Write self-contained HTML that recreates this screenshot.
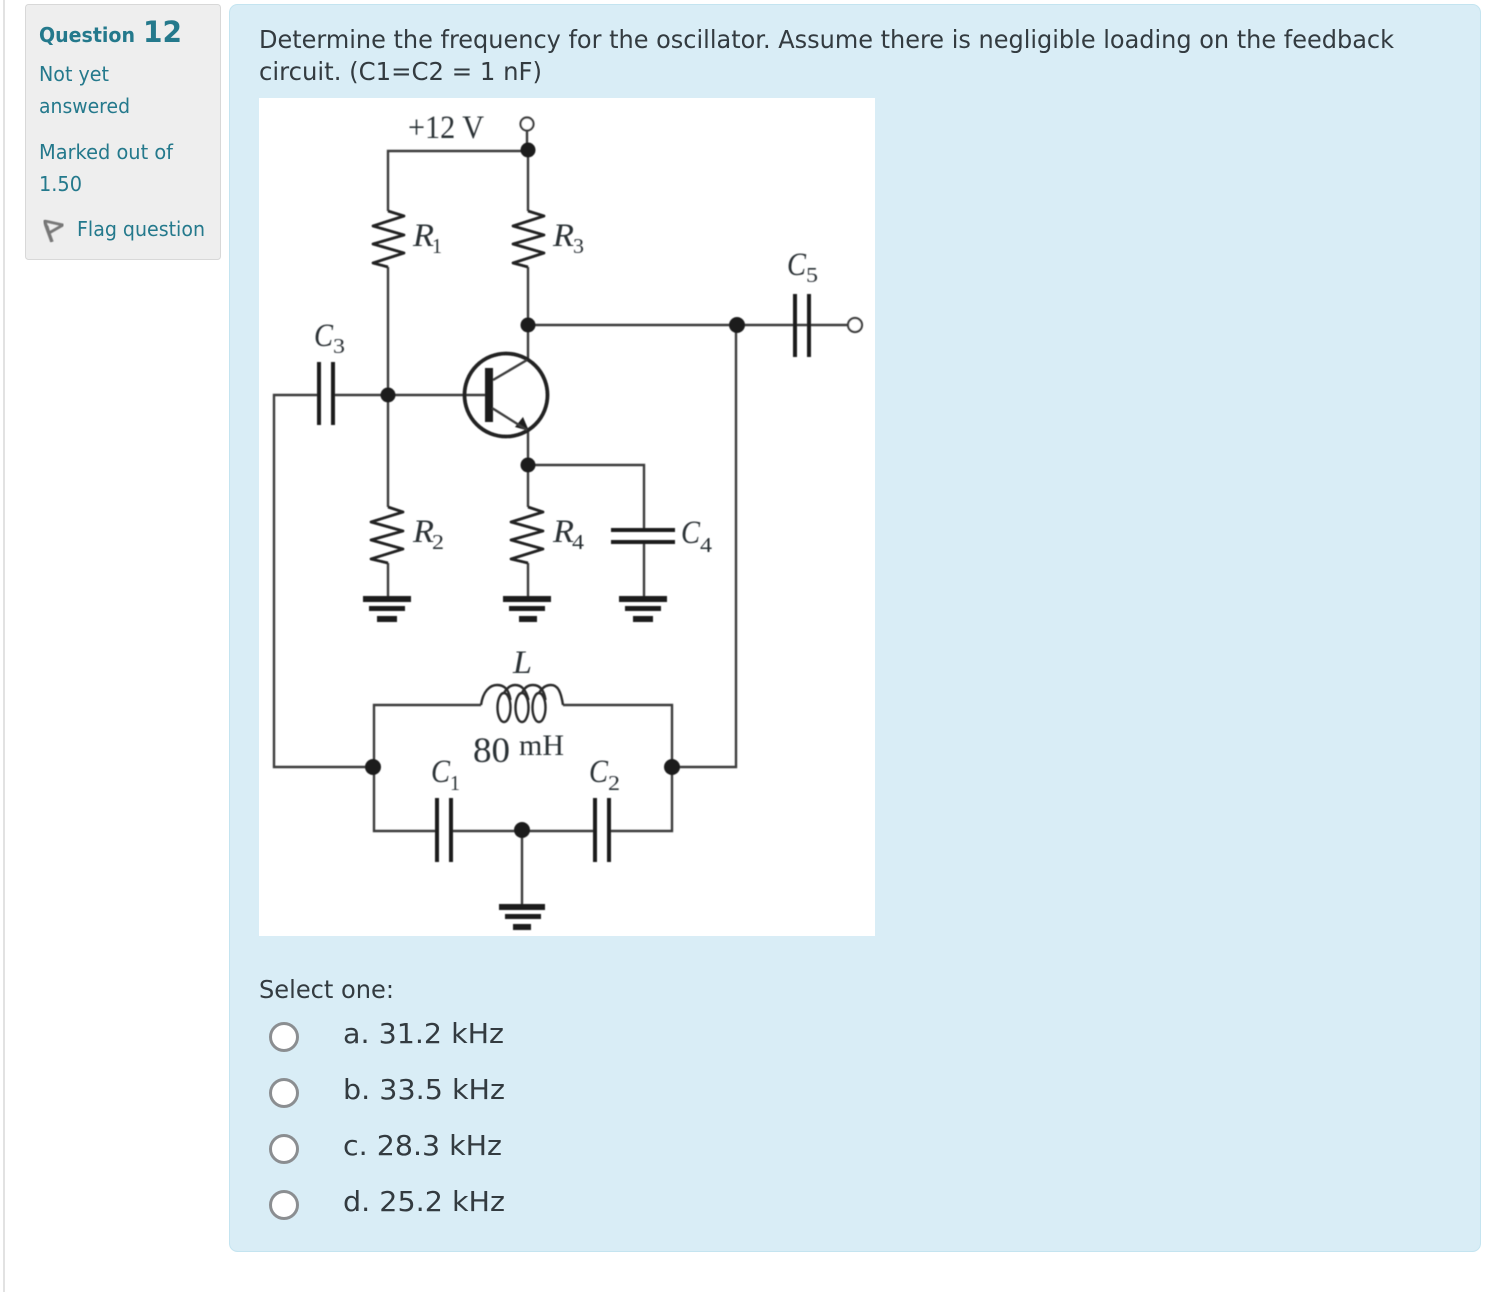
<!DOCTYPE html>
<html><head><meta charset="utf-8"><style>
html,body{margin:0;padding:0;background:#fff;width:1490px;height:1292px;overflow:hidden}
svg{display:block}
.s{font-family:"DejaVu Sans","Liberation Sans",sans-serif}
.q{fill:#24798c}
.m{fill:#333b40}
.c{font-family:"Liberation Serif",serif;fill:#2c3036}
.i{font-style:italic;font-size:33px}
.u{font-size:21px}
.w{fill:none;stroke:#3c3c3c;stroke-width:2.4}
.r{fill:none;stroke:#222;stroke-width:2.8;stroke-linejoin:round}
.p{fill:#1f1f1f;stroke:none}
.o{fill:#fff;stroke:#8b8e91;stroke-width:3}
</style></head><body>
<svg width="1490" height="1292" viewBox="0 0 1490 1292" xmlns="http://www.w3.org/2000/svg">
<defs><filter id="b" x="-2%" y="-2%" width="104%" height="104%"><feGaussianBlur stdDeviation="0.5"/></filter></defs>
<rect x="3" y="0" width="2" height="1292" fill="#e2e2e2"/>
<rect x="25.5" y="4.5" width="195" height="255" rx="3" fill="#eee" stroke="#d8d8d8"/>
<rect x="229.5" y="4.5" width="1251" height="1247" rx="8" fill="#d9edf6" stroke="#c4e4f0"/>
<rect x="259" y="98" width="616" height="838" fill="#fff"/>

<g class="s q">
<text x="39" y="42" font-size="20" font-weight="bold" textLength="96" lengthAdjust="spacingAndGlyphs">Question</text>
<text x="143" y="42" font-size="29" font-weight="bold" textLength="39" lengthAdjust="spacingAndGlyphs">12</text>
<text x="39" y="81" font-size="20" textLength="70" lengthAdjust="spacingAndGlyphs">Not yet</text>
<text x="39" y="113" font-size="20" textLength="91" lengthAdjust="spacingAndGlyphs">answered</text>
<text x="39" y="159" font-size="20" textLength="134" lengthAdjust="spacingAndGlyphs">Marked out of</text>
<text x="39" y="191" font-size="20" textLength="43" lengthAdjust="spacingAndGlyphs">1.50</text>
<text x="77" y="236" font-size="20" textLength="128" lengthAdjust="spacingAndGlyphs">Flag question</text>
</g>
<g fill="none" stroke="#777" stroke-width="3.4" filter="url(#b)"><path d="M44 220L52 242"/><path d="M45 221L63 225L49 233L47 226" stroke-width="2.8"/></g>

<g class="s m">
<text x="259" y="48" font-size="24.5" textLength="1135" lengthAdjust="spacingAndGlyphs">Determine the frequency for the oscillator. Assume there is negligible loading on the feedback</text>
<text x="259" y="80" font-size="24.5" textLength="283" lengthAdjust="spacingAndGlyphs">circuit. (C1=C2 = 1 nF)</text>
<text x="259" y="998" font-size="24.5" textLength="135" lengthAdjust="spacingAndGlyphs">Select one:</text>
<text x="343" y="1043" font-size="28" textLength="161" lengthAdjust="spacingAndGlyphs">a. 31.2 kHz</text>
<text x="343" y="1099" font-size="28" textLength="162" lengthAdjust="spacingAndGlyphs">b. 33.5 kHz</text>
<text x="343" y="1155" font-size="28" textLength="159" lengthAdjust="spacingAndGlyphs">c. 28.3 kHz</text>
<text x="343" y="1211" font-size="28" textLength="162" lengthAdjust="spacingAndGlyphs">d. 25.2 kHz</text>
</g>
<circle class="o" cx="284" cy="1037" r="13.5"/>
<circle class="o" cx="284" cy="1093" r="13.5"/>
<circle class="o" cx="284" cy="1149" r="13.5"/>
<circle class="o" cx="284" cy="1205" r="13.5"/>

<g filter="url(#b)">
<!-- wires -->
<path class="w" d="M527 130V151H388V211M388 267V507M388 563V599"/>
<path class="w" d="M528 151V211M528 267V360M528 430V507M528 563V599"/>
<path class="w" d="M528 325H848M736 325V767H672"/>
<path class="w" d="M528 465H644V530M644 542V599"/>
<path class="w" d="M388 395H488M319 395H274V767H373M333 395H388"/>
<path class="w" d="M481 705H374V831H437M451 831H595M609 831H672V705H563"/>
<path class="w" d="M522 831V907"/>
<!-- resistors -->
<path class="r" d="M388 211L404 216L373 226L404 235L373 244L404 253L373 263L388 267"/>
<path class="r" d="M528 211L544 216L513 226L544 235L513 244L544 253L513 263L528 267"/>
<path class="r" d="M388 507L403 512L371 522L403 531L371 540L403 549L371 559L388 563"/>
<path class="r" d="M528 507L543 512L511 522L543 531L511 540L543 549L511 559L528 563"/>
<!-- inductor -->
<g fill="none" stroke="#2a2a2a" stroke-width="2.4">
<ellipse cx="504" cy="707.5" rx="6.5" ry="14.5"/>
<ellipse cx="522" cy="707.5" rx="6.5" ry="14.5"/>
<ellipse cx="539" cy="707.5" rx="6.5" ry="14.5"/>
<path d="M481 705C483 691 490 685 497 685C505 685 509 690 510.5 700"/>
<path d="M504 693C508 686 512 685 515 685C522 685 526 690 528.5 700"/>
<path d="M522 693C525 686 530 685 533 685C540 685 544 690 545.5 700"/>
<path d="M539 693C543 686 548 685 551 685C558 685 561 692 563 705"/>
</g>
<!-- capacitors -->
<g class="p">
<rect x="317" y="362" width="4" height="63"/><rect x="331" y="362" width="4" height="63"/>
<rect x="793" y="294" width="4" height="63"/><rect x="807" y="294" width="4" height="63"/>
<rect x="435" y="798" width="4" height="64"/><rect x="449" y="798" width="4" height="64"/>
<rect x="593" y="798" width="4" height="64"/><rect x="607" y="798" width="4" height="64"/>
<rect x="611" y="528" width="64" height="4"/><rect x="611" y="540" width="64" height="4"/>
<!-- grounds -->
<rect x="363" y="596" width="48" height="6"/><rect x="369" y="606" width="36" height="5"/><rect x="377" y="616" width="20" height="6"/>
<rect x="503" y="596" width="48" height="6"/><rect x="509" y="606" width="36" height="5"/><rect x="519" y="616" width="18" height="6"/>
<rect x="619" y="596" width="48" height="6"/><rect x="625" y="606" width="36" height="5"/><rect x="633" y="616" width="20" height="6"/>
<rect x="499" y="904" width="46" height="6"/><rect x="505" y="914" width="36" height="5"/><rect x="513" y="924" width="18" height="6"/>
<!-- transistor -->
<rect x="485" y="368" width="8" height="54"/>
<path d="M529 431L515 427L523 417Z"/>
<!-- dots -->
<circle cx="528" cy="150" r="7.5"/><circle cx="528" cy="325" r="7.5"/><circle cx="737" cy="325" r="8"/>
<circle cx="388" cy="395" r="7.5"/><circle cx="528" cy="465" r="7.5"/>
<circle cx="373" cy="767" r="8"/><circle cx="672" cy="767" r="8"/><circle cx="522" cy="830" r="8"/>
</g>
<circle cx="506" cy="395" r="41.5" fill="none" stroke="#222" stroke-width="3.8"/>
<path class="w" d="M493 380L527 360M492 408L527 430"/>
<circle cx="527" cy="124" r="6.5" fill="#fff" stroke="#3c3c3c" stroke-width="2.2"/>
<circle cx="855" cy="325" r="7" fill="#fff" stroke="#3c3c3c" stroke-width="2.2"/>
<!-- labels -->
<g class="c">
<text x="408" y="138" font-size="33" textLength="76" lengthAdjust="spacingAndGlyphs">+12 V</text>
<text class="i" x="413" y="246" textLength="21" lengthAdjust="spacingAndGlyphs">R</text><text class="u" x="432" y="253" textLength="10" lengthAdjust="spacingAndGlyphs">1</text>
<text class="i" x="553" y="246" textLength="21" lengthAdjust="spacingAndGlyphs">R</text><text class="u" x="573" y="253" textLength="11" lengthAdjust="spacingAndGlyphs">3</text>
<text class="i" x="787" y="275" textLength="19" lengthAdjust="spacingAndGlyphs">C</text><text class="u" x="806" y="282" textLength="12" lengthAdjust="spacingAndGlyphs">5</text>
<text class="i" x="314" y="346" textLength="19" lengthAdjust="spacingAndGlyphs">C</text><text class="u" x="333" y="353" textLength="12" lengthAdjust="spacingAndGlyphs">3</text>
<text class="i" x="413" y="542" textLength="21" lengthAdjust="spacingAndGlyphs">R</text><text class="u" x="432" y="549" textLength="12" lengthAdjust="spacingAndGlyphs">2</text>
<text class="i" x="553" y="542" textLength="21" lengthAdjust="spacingAndGlyphs">R</text><text class="u" x="572" y="549" textLength="12" lengthAdjust="spacingAndGlyphs">4</text>
<text class="i" x="681" y="543" textLength="19" lengthAdjust="spacingAndGlyphs">C</text><text class="u" x="700" y="552" textLength="12" lengthAdjust="spacingAndGlyphs">4</text>
<text class="i" x="513" y="673" textLength="19" lengthAdjust="spacingAndGlyphs">L</text>
<text x="473" y="762" font-size="36" textLength="37" lengthAdjust="spacingAndGlyphs">80</text>
<text x="519" y="755" font-size="30" textLength="45" lengthAdjust="spacingAndGlyphs">mH</text>
<text class="i" x="431" y="782" textLength="19" lengthAdjust="spacingAndGlyphs">C</text><text class="u" x="450" y="790" textLength="10" lengthAdjust="spacingAndGlyphs">1</text>
<text class="i" x="589" y="782" textLength="19" lengthAdjust="spacingAndGlyphs">C</text><text class="u" x="608" y="790" textLength="12" lengthAdjust="spacingAndGlyphs">2</text>
</g>
</g>
</svg>
</body></html>
